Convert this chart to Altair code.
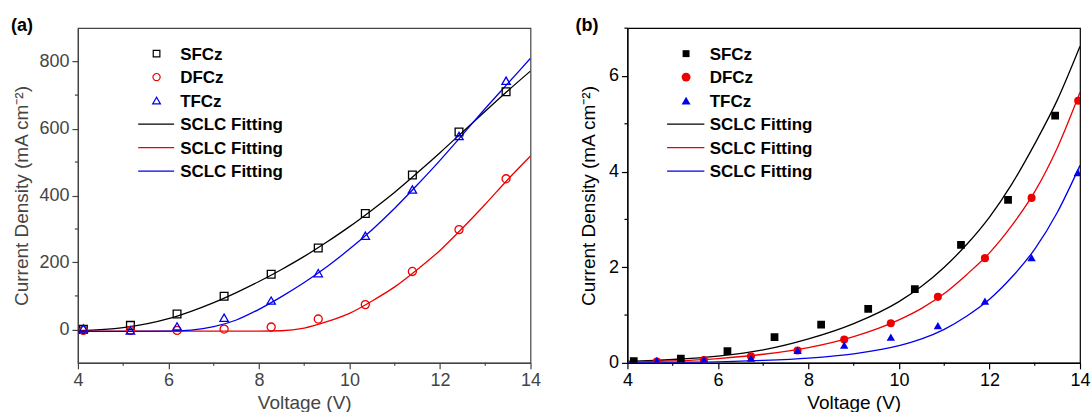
import altair as alt
import pandas as pd

SERIES = ["SFCz", "DFCz", "TFCz"]
FIT_LABEL = "SCLC Fitting"
COLORS = ["#000000", "#ee0000", "#0000ee"]
SHAPES = ["square", "circle", "triangle-up"]

# ---------- (a) measured current density, mA cm^-2 ----------
a_v = [4.12, 5.16, 6.19, 7.23, 8.27, 9.31, 10.35, 11.39, 12.42, 13.46]
a_sfcz = [0, 12, 46, 99, 165, 243, 346, 461, 590, 710]
a_dfcz = [-3, -3, -3, 1, 7, 31, 74, 173, 298, 450]
a_tfcz = [3, -3, 9, 35, 86, 168, 280, 418, 578, 743]

# (a) SCLC fitted curves
a_fit_v = [4, 5, 6, 6.5, 7, 7.5, 8, 8.5, 9, 9.5, 10, 10.5, 11, 11.5, 12, 12.5, 13, 13.5, 14]
a_fit_sfcz = [-4, 5, 32, 54, 80, 110, 143, 179, 218, 261, 307, 357, 410, 468, 528, 590, 652, 713, 772]
a_fit_dfcz = [-5, -5, -5, -5, -5, -5, -5, -4, 4, 23, 48, 85, 127, 179, 236, 303, 374, 448, 518]
a_fit_tfcz = [-6, -6, -5, -2, 8, 28, 60, 98, 140, 187, 240, 298, 362, 432, 505, 582, 660, 735, 810]

# ---------- (b) measured current density, mA cm^-2 ----------
b_v_sfcz = [4.14, 5.18, 6.21, 7.25, 8.28, 9.32, 10.35, 11.37, 12.41, 13.45]
b_sfcz = [0.035, 0.09, 0.245, 0.54, 0.80, 1.13, 1.54, 2.47, 3.41, 5.17]
b_v_dfcz = [4.65, 5.69, 6.73, 7.76, 8.79, 9.82, 10.86, 11.90, 12.93, 13.96]
b_dfcz = [0.03, 0.06, 0.14, 0.26, 0.49, 0.83, 1.38, 2.19, 3.45, 5.48]
b_v_tfcz = [4.65, 5.69, 6.73, 7.76, 8.79, 9.82, 10.86, 11.90, 12.93, 13.95]
b_tfcz = [0.05, 0.07, 0.10, 0.26, 0.37, 0.54, 0.78, 1.29, 2.20, 3.98]

# (b) SCLC fitted curves
b_fit_v = [4, 5, 6, 7, 8, 9, 10, 10.5, 11, 11.5, 12, 12.5, 13, 13.5, 14]
b_fit_sfcz = [0.03, 0.07, 0.14, 0.27, 0.50, 0.82, 1.28, 1.60, 2.00, 2.48, 3.05, 3.75, 4.58, 5.50, 6.62]
b_fit_dfcz = [0.02, 0.04, 0.09, 0.18, 0.32, 0.55, 0.90, 1.14, 1.45, 1.85, 2.30, 2.88, 3.58, 4.50, 5.66]
b_fit_tfcz = [0.00, 0.01, 0.02, 0.05, 0.10, 0.19, 0.36, 0.50, 0.70, 0.98, 1.33, 1.80, 2.38, 3.15, 4.13]

# axis ticks
x_major = [4, 6, 8, 10, 12, 14]
x_minor = [5, 7, 9, 11, 13]
a_y_major = [0, 200, 400, 600, 800]
a_y_minor = [100, 300, 500, 700]
b_y_major = [0, 2, 4, 6]
b_y_minor = [1, 3, 5, 7]

FONT = "Liberation Sans"
W, H = 453, 335
Y_TITLE = "Current Density (mA cm\u207b\u00b2)"


def long_table(pairs):
    rows = []
    for name, xs, ys in pairs:
        for x, y in zip(xs, ys):
            rows.append({"v": x, "j": y, "series": name})
    return pd.DataFrame(rows)


def one(label):
    return pd.DataFrame({"label": [label]})


def panel(points, fits, y_domain, y_major, y_minor, filled, sizes, ink,
          tag, tag_x, title_pad, leg_marker_x, leg_line_x, leg_text_x,
          leg_sizes, anchor=False):
    axis_style = dict(grid=False, tickSize=6, tickColor=ink, tickWidth=1.2,
                      domainColor=ink, domainWidth=1.2,
                      labelFont=FONT, labelFontSize=18, labelColor=ink,
                      labelPadding=3, labelFlush=False, labelOverlap=False,
                      titleFont=FONT, titleFontSize=19, titleFontWeight="normal",
                      titleColor=ink, format="d")
    xs = alt.X("v:Q", scale=alt.Scale(domain=[4, 14], nice=False, zero=False),
               axis=alt.Axis(values=x_major, title="Voltage (V)", titlePadding=4, **axis_style))
    ys = alt.Y("j:Q", scale=alt.Scale(domain=y_domain, nice=False, zero=False),
               axis=alt.Axis(values=y_major, title=Y_TITLE, titlePadding=title_pad, **axis_style))
    color = alt.Color("series:N", scale=alt.Scale(domain=SERIES, range=COLORS), legend=None)
    shape = alt.Shape("series:N", scale=alt.Scale(domain=SERIES, range=SHAPES), legend=None)
    size = alt.Size("series:N", scale=alt.Scale(domain=SERIES, range=sizes), legend=None)

    lines = alt.Chart(fits).mark_line(strokeWidth=1.3, interpolate="monotone", clip=True).encode(
        x=xs, y=ys, color=color, detail="series:N")
    pts = alt.Chart(points).mark_point(filled=filled, strokeWidth=1.3, opacity=1, clip=True).encode(
        x=xs, y=ys, color=color, shape=shape, size=size)

    # minor ticks, drawn outward from the frame
    xm = alt.Chart(pd.DataFrame({"v": x_minor})).mark_rule(color=ink, strokeWidth=1.2).encode(
        x=xs, y=alt.value(H), y2=alt.value(H + 3))
    ym = alt.Chart(pd.DataFrame({"j": y_minor})).mark_rule(color=ink, strokeWidth=1.2).encode(
        y=ys, x=alt.value(0), x2=alt.value(-3))

    layers = [lines, pts, xm, ym]

    # panel tag
    layers.append(alt.Chart(one(tag)).mark_text(
        font=FONT, fontSize=18, fontWeight="bold", align="left", baseline="alphabetic",
        color="#000").encode(x=alt.value(tag_x), y=alt.value(3), text="label:N"))

    # legend rows
    row_y = [25.5, 49, 72.5, 96, 119.5, 143]
    for i, name in enumerate(SERIES):
        layers.append(alt.Chart(one(name)).mark_point(
            shape=SHAPES[i], filled=filled, size=leg_sizes[i], color=COLORS[i],
            strokeWidth=1.2, opacity=1).encode(
            x=alt.value(leg_marker_x), y=alt.value(row_y[i])))
        layers.append(alt.Chart(one(name)).mark_text(
            font=FONT, fontSize=17, fontWeight="bold", align="left", baseline="middle",
            color="#000").encode(x=alt.value(leg_text_x), y=alt.value(row_y[i] + 1), text="label:N"))
    for i in range(3):
        r = row_y[3 + i]
        layers.append(alt.Chart(one(FIT_LABEL)).mark_rule(color=COLORS[i], strokeWidth=1.3).encode(
            x=alt.value(leg_line_x[0]), x2=alt.value(leg_line_x[1]), y=alt.value(r)))
        layers.append(alt.Chart(one(FIT_LABEL)).mark_text(
            font=FONT, fontSize=17, fontWeight="bold", align="left", baseline="middle",
            color="#000").encode(x=alt.value(leg_text_x), y=alt.value(r + 1), text="label:N"))

    if anchor:
        # fixes the top-left corner of the canvas
        layers.append(alt.Chart(one("")).mark_rule(opacity=0, strokeWidth=0.01).encode(
            x=alt.value(-77), x2=alt.value(0), y=alt.value(-27)))

    return alt.layer(*layers).properties(
        width=W, height=H,
        view=alt.ViewBackground(stroke=ink, strokeWidth=1.2, fill="white"))


pts_a = long_table([("SFCz", a_v, a_sfcz), ("DFCz", a_v, a_dfcz), ("TFCz", a_v, a_tfcz)])
fit_a = long_table([("SFCz", a_fit_v, a_fit_sfcz), ("DFCz", a_fit_v, a_fit_dfcz),
                    ("TFCz", a_fit_v, a_fit_tfcz)])
pts_b = long_table([("SFCz", b_v_sfcz, b_sfcz), ("DFCz", b_v_dfcz, b_dfcz),
                    ("TFCz", b_v_tfcz, b_tfcz)])
fit_b = long_table([("SFCz", b_fit_v, b_fit_sfcz), ("DFCz", b_fit_v, b_fit_dfcz),
                    ("TFCz", b_fit_v, b_fit_tfcz)])

panel_a = panel(pts_a, fit_a, [-100, 900], a_y_major, a_y_minor, False, [60, 70, 78],
                "#444444", "(a)", -67, 7, 78.7, (60.3, 96.3), 102.3, [44, 52, 60], anchor=True)
panel_b = panel(pts_b, fit_b, [0, 7], b_y_major, b_y_minor, True, [85, 100, 115],
                "#000000", "(b)", -52, 10, 58.7, (39.7, 77), 82.3, [48, 80, 80])

chart = alt.hconcat(panel_a, panel_b, spacing=97, bounds="flush", padding=0).configure(
    background="white")

chart.save("out.html", embed_options={"renderer": "svg", "actions": False})
